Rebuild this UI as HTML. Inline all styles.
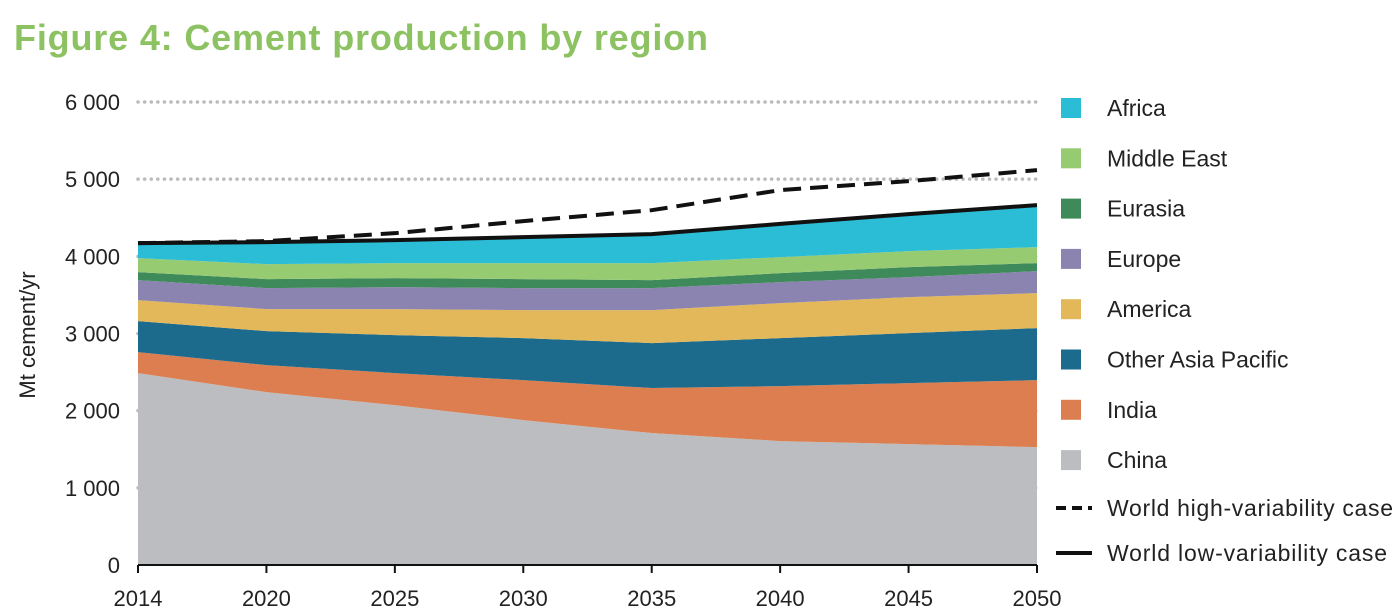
<!DOCTYPE html>
<html><head><meta charset="utf-8"><style>
body{margin:0;background:#fff;width:1400px;height:611px;overflow:hidden;font-family:"Liberation Sans",sans-serif;}
</style></head><body>
<svg width="1400" height="611">
<text x="14" y="50" font-size="36" font-weight="bold" fill="#8dc263" textLength="694">Figure 4: Cement production by region</text>
<g id="grid"></g><g id="areas"></g><g id="lines"></g><g id="axes"></g><g id="legend"></g>
<text transform="translate(35,335) rotate(-90)" text-anchor="middle" font-size="22" fill="#222">Mt cement/yr</text>
</svg>
<script>
const years=["2014","2020","2025","2030","2035","2040","2045","2050"];
const regions=["China","India","Other Asia Pacific","America","Europe","Eurasia","Middle East","Africa"];
const colors=["#bcbdc0","#dc7e4f","#1c6b8c","#e2b85a","#8c84b0","#3f8a5b","#97cb72","#2bbcd6"];
const china=[2487,2240,2072,1878,1710,1606,1567,1528];
const india=[272,350,415,518,583,712,790,868];
const otherAsia=[401,441,492,544,583,622,648,674];
const america=[273,285,337,363,427,454,466,453];
const europe=[259,272,285,285,285,272,260,285];
const eurasia=[103,117,117,117,104,116,129,104];
const middleEast=[182,194,194,207,220,208,207,207];
const africa=[194,285,298,337,376,430,480,545];
const highCase=[4171,4197,4300,4456,4598,4858,4974,5117];
const yTicks=[0,1000,2000,3000,4000,5000,6000];
const yTickLabels=["0","1 000","2 000","3 000","4 000","5 000","6 000"];
const series=[china,india,otherAsia,america,europe,eurasia,middleEast,africa];
const NS="http://www.w3.org/2000/svg";
const x0=138,x1=1037,yb=565,yt=102;
const X=i=>x0+(x1-x0)*i/(years.length-1);
const Y=v=>yb-(yb-yt)*v/6000;
function mk(t,a,p){const e=document.createElementNS(NS,t);for(const k in a)e.setAttribute(k,a[k]);p.appendChild(e);return e;}
const grid=document.getElementById('grid');
yTicks.forEach((v,i)=>{
 if(v>0){const l=mk('line',{x1:x0,x2:x1,y1:Y(v),y2:Y(v),stroke:'#bbb','stroke-width':3.5,'stroke-dasharray':'0.1 6.5','stroke-linecap':'round'},grid);
 
 }
 const t=mk('text',{x:120,y:Y(v)+8,'text-anchor':'end','font-size':22,fill:'#222'},grid);t.textContent=yTickLabels[i];
 
 
});
const areas=document.getElementById('areas');
let base=years.map(()=>0);
series.forEach((s,k)=>{
 const top=base.map((b,i)=>b+s[i]);
 let d='M'+top.map((v,i)=>X(i)+','+Y(v)).join('L')+'L'+base.map((v,i)=>[X(i),Y(v)]).reverse().map(p=>p.join(',')).join('L')+'Z';
 const p=mk('path',{d:d,fill:colors[k]},areas);
 
 
 base=top;
});
const lines=document.getElementById('lines');
const low=base;
const lp=mk('polyline',{points:low.map((v,i)=>X(i)+','+Y(v)).join(' '),fill:'none',stroke:'#111','stroke-width':4},lines);


const hp=mk('polyline',{points:highCase.map((v,i)=>X(i)+','+Y(v)).join(' '),fill:'none',stroke:'#111','stroke-width':4,'stroke-dasharray':'18 9'},lines);


const axes=document.getElementById('axes');
const ax=mk('line',{x1:x0,x2:x1,y1:yb,y2:yb,stroke:'#111','stroke-width':2},axes);


years.forEach((y,i)=>{
 mk('line',{x1:X(i),x2:X(i),y1:yb,y2:yb+8,stroke:'#111','stroke-width':2},axes);
 const t=mk('text',{x:X(i),y:606,'text-anchor':'middle','font-size':22,fill:'#222'},axes);t.textContent=y;
 
 
});
const lg=document.getElementById('legend');
for(let k=7;k>=0;k--){
 const row=7-k,yy=108+row*50.3;
 const g=mk('g',{},lg);
 
 
 mk('rect',{x:1061,y:yy-10,width:20,height:20,fill:colors[k]},g);
 const t=mk('text',{x:1107,y:yy+8,'font-size':23,fill:'#222'},g);t.textContent=regions[k];
}
[["World high-variability case",508,'18 9',286],["World low-variability case",553,null,280]].forEach(([n,yy,da,w])=>{
 const g=mk('g',{},lg);
 
 
 const a={x1:1056,x2:1092,y1:yy,y2:yy,stroke:'#111','stroke-width':4};if(da)a['stroke-dasharray']='10 6';
 mk('line',a,g);
 const t=mk('text',{x:1107,y:yy+8,'font-size':23,fill:'#222',textLength:w},g);t.textContent=n;
});
</script>
</body></html>
